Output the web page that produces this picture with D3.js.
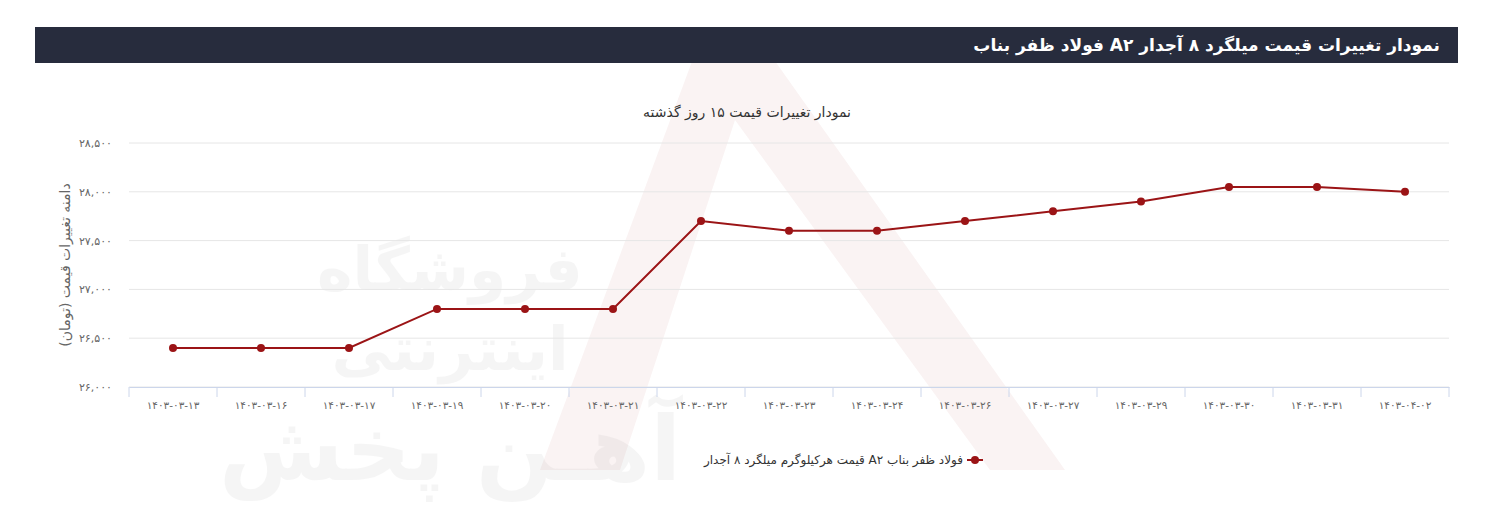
<!DOCTYPE html>
<html lang="fa">
<head>
<meta charset="utf-8">
<script src="https://cdn.jsdelivr.net/npm/d3@7"></script>
<style>
  body { margin: 0; background: #fff; font-family: "DejaVu Sans", sans-serif; }
  .rtl { direction: rtl; unicode-bidi: embed; }
</style>
</head>
<body>
<svg id="chart" width="1491" height="506"></svg>
<script>
const dates = ['1403-03-13','1403-03-16','1403-03-17','1403-03-19','1403-03-20','1403-03-21','1403-03-22','1403-03-23','1403-03-24','1403-03-26','1403-03-27','1403-03-29','1403-03-30','1403-03-31','1403-04-02'];
const prices = [26400, 26400, 26400, 26800, 26800, 26800, 27700, 27600, 27600, 27700, 27800, 27900, 28050, 28050, 28000];
const yTicks = [26000, 26500, 27000, 27500, 28000, 28500];

const fa = s => String(s).replace(/\d/g, d => '۰۱۲۳۴۵۶۷۸۹'[d]);
const fmt = v => fa(d3.format(',')(v));

const svg = d3.select('#chart');
const margin = { top: 143, right: 42, bottom: 119, left: 129 };
const W = 1491, H = 506;

// watermark
svg.append('path')
  .attr('d', 'M540,470 L700,40 L760,40 L1065,470 L990,470 L735,120 L620,470 Z')
  .attr('fill', '#a01818').attr('opacity', 0.05);
[['فروشگاه', 290, 60], ['اینترنتی', 370, 60], ['آهـن پخش', 480, 90]].forEach(([t, yy, fs]) => {
  svg.append('text').attr('x', 450).attr('y', yy).attr('text-anchor', 'middle')
    .attr('font-size', fs).attr('font-weight', 'bold').attr('fill', '#000').attr('opacity', 0.035)
    .text(t);
});

// header
svg.append('rect').attr('x', 35).attr('y', 27).attr('width', 1423).attr('height', 36).attr('fill', '#272c3d');
svg.append('text').attr('class', 'rtl').attr('x', 1440).attr('y', 51).attr('text-anchor', 'start')
  .attr('fill', '#fff').attr('font-size', 17).attr('font-weight', 'bold')
  .text('نمودار تغییرات قیمت میلگرد ۸ آجدار A۲ فولاد ظفر بناب');

svg.append('text').attr('class', 'rtl').attr('x', 747).attr('y', 117).attr('text-anchor', 'middle')
  .attr('fill', '#333').attr('font-size', 14)
  .text('نمودار تغییرات قیمت ۱۵ روز گذشته');

const x = d3.scaleBand().domain(dates).range([margin.left, W - margin.right]);
const y = d3.scaleLinear().domain([26000, 28500]).range([H - margin.bottom, margin.top]);

svg.append('g').selectAll('line').data(yTicks).join('line')
  .attr('x1', margin.left).attr('x2', W - margin.right)
  .attr('y1', d => y(d)).attr('y2', d => y(d))
  .attr('stroke', '#e6e6e6');

const yAxis = svg.append('g').attr('transform', `translate(${margin.left - 14},0)`)
  .call(d3.axisLeft(y).tickValues(yTicks).tickFormat(fmt).tickSize(0));
yAxis.select('.domain').remove();
yAxis.selectAll('text').attr('fill', '#666').attr('font-size', 11).attr('font-family', 'DejaVu Sans');

const xAxis = svg.append('g').attr('transform', `translate(0,${H - margin.bottom})`)
  .call(d3.axisBottom(x).tickFormat(fa).tickSize(10).tickSizeOuter(0));
xAxis.select('.domain').attr('stroke', '#ccd6eb');
xAxis.selectAll('.tick line').attr('stroke', '#ccd6eb').attr('transform', `translate(${-x.bandwidth() / 2},0)`);
xAxis.selectAll('text').attr('fill', '#666').attr('font-size', 10.5).attr('font-family', 'DejaVu Sans').attr('dy', '0.9em');
xAxis.append('line').attr('x1', W - margin.right).attr('x2', W - margin.right).attr('y1', 0).attr('y2', 10).attr('stroke', '#ccd6eb');

svg.append('text').attr('class', 'rtl').attr('transform', `translate(70,${(margin.top + H - margin.bottom) / 2}) rotate(-90)`)
  .attr('text-anchor', 'middle').attr('fill', '#666').attr('font-size', 14)
  .text('دامنه تغییرات قیمت (تومان)');

const color = '#9b1416';
const pts = dates.map((d, i) => [x(d) + x.bandwidth() / 2, y(prices[i])]);
svg.append('path').attr('d', d3.line()(pts)).attr('fill', 'none').attr('stroke', color).attr('stroke-width', 2);
svg.selectAll('circle.pt').data(pts).join('circle').attr('class', 'pt')
  .attr('cx', d => d[0]).attr('cy', d => d[1]).attr('r', 4).attr('fill', color);

// legend
const lg = svg.append('g').attr('transform', 'translate(975,460)');
lg.append('line').attr('x1', -8).attr('x2', 8).attr('stroke', color).attr('stroke-width', 2);
lg.append('circle').attr('r', 4).attr('fill', color);
lg.append('text').attr('class', 'rtl').attr('x', -12).attr('y', 4).attr('text-anchor', 'start').attr('font-size', 12).attr('fill', '#333')
  .text('فولاد ظفر بناب A۲ قیمت هرکیلوگرم میلگرد ۸ آجدار');
</script>
</body>
</html>
